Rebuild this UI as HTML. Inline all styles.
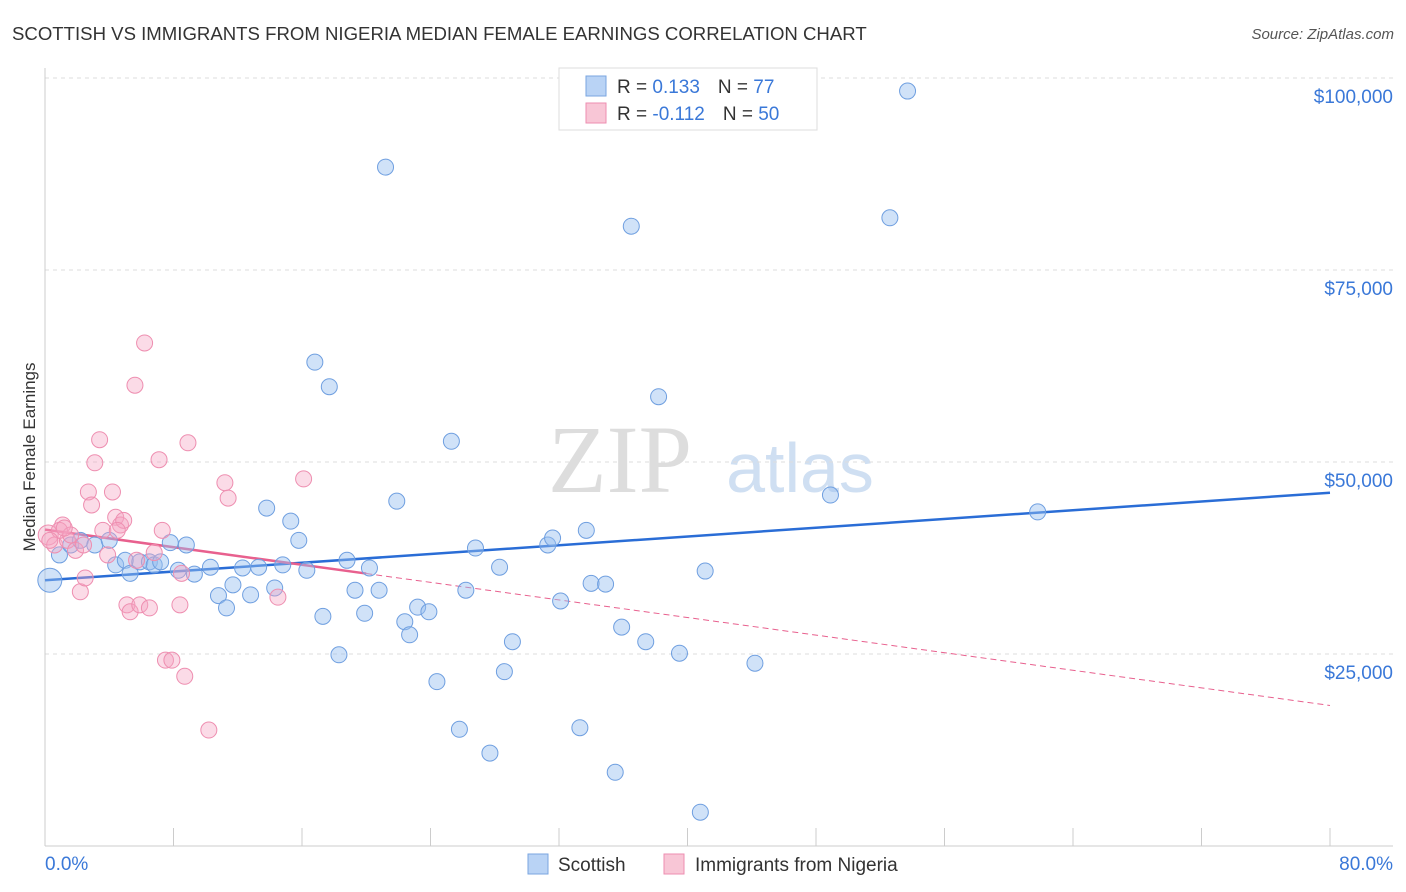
<!DOCTYPE html>
<html><head><meta charset="utf-8"><style>
body{margin:0;background:#fff;font-family:"Liberation Sans",sans-serif;}
svg{display:block}
</style></head><body>
<svg id="chart" width="1406" height="892">
<text x="12" y="40" font-size="18.6" fill="#333">SCOTTISH VS IMMIGRANTS FROM NIGERIA MEDIAN FEMALE EARNINGS CORRELATION CHART</text>
<text x="1394" y="39" font-size="15" fill="#555" font-style="italic" text-anchor="end">Source: ZipAtlas.com</text>
<text x="35" y="457" font-size="17" fill="#333" text-anchor="middle" transform="rotate(-90 35 457)">Median Female Earnings</text>
<text x="620" y="492" font-size="96" fill="#ddd" font-family="Liberation Serif" text-anchor="middle">ZIP</text>
<text x="800" y="492" font-size="70" fill="#cfdff2" text-anchor="middle">atlas</text>
<g id="grid"></g><g id="axes"></g><g id="trends"></g><g id="pts"></g>
<g>
<rect x="559" y="68" width="258" height="62" fill="#fff" stroke="#ddd"/>
<rect x="586" y="76" width="20" height="20" fill="#b9d3f5" stroke="#7aa6e0"/>
<rect x="586" y="103" width="20" height="20" fill="#f8c6d6" stroke="#ee8eb0"/>
<text x="617" y="93" font-size="19" fill="#333">R = <tspan fill="#3a78d8"> 0.133</tspan><tspan dx="18">N = </tspan><tspan fill="#3a78d8">77</tspan></text>
<text x="617" y="120" font-size="19" fill="#333">R = <tspan fill="#3a78d8">-0.112</tspan><tspan dx="18">N = </tspan><tspan fill="#3a78d8">50</tspan></text>
</g>
<g>
<rect x="528" y="854" width="20" height="20" fill="#b9d3f5" stroke="#7aa6e0"/>
<text x="558" y="871" font-size="19" fill="#333">Scottish</text>
<rect x="664" y="854" width="20" height="20" fill="#f8c6d6" stroke="#ee8eb0"/>
<text x="695" y="871" font-size="19" fill="#333">Immigrants from Nigeria</text>
</g>
<text x="45" y="870" font-size="19" fill="#3a78d8">0.0%</text>
<text x="1393" y="870" font-size="19" fill="#3a78d8" text-anchor="end">80.0%</text>
</svg>
<script>
const yTicks=[25000,50000,75000,100000];
const yTickLabels=["$25,000","$50,000","$75,000","$100,000"];
const scotX=[0.3,0.9,1.6,2.2,3.1,4.0,4.4,5.0,5.3,5.9,6.5,6.8,7.2,7.8,8.3,8.8,9.3,10.3,10.8,11.3,11.7,12.3,12.8,13.3,13.8,14.3,14.8,15.3,15.8,16.3,16.8,17.3,17.7,18.3,18.8,19.3,19.9,20.2,20.8,21.2,21.9,22.4,22.7,23.2,23.9,24.4,25.3,25.8,26.2,26.8,27.7,28.3,28.6,29.1,31.3,31.6,32.1,33.3,33.7,34.0,34.9,35.5,35.9,36.5,37.4,38.2,39.5,40.8,41.1,44.2,48.9,52.6,53.7,61.8];
const scotY=[34.6,37.9,39.2,39.8,39.2,39.8,36.6,37.2,35.5,37.0,37.0,36.6,37.0,39.5,35.9,39.2,35.4,36.3,32.6,31.0,34.0,36.2,32.7,36.3,44.0,33.6,36.6,42.3,39.8,35.9,63.0,29.9,59.8,24.9,37.2,33.3,30.3,36.2,33.3,88.4,44.9,29.2,27.5,31.1,30.5,21.4,52.7,15.2,33.3,38.8,12.1,36.3,22.7,26.6,39.2,40.1,31.9,15.4,41.1,34.2,34.1,9.6,28.5,80.7,26.6,58.5,25.1,4.4,35.8,23.8,45.7,81.8,98.3,43.5];
const nigX=[0.2,0.6,1.1,1.4,1.9,2.2,2.5,2.7,2.9,3.1,3.4,3.6,3.9,4.2,4.4,4.7,4.9,5.1,5.3,5.6,5.7,5.9,6.2,6.5,6.8,7.1,7.3,7.5,7.9,8.4,8.5,8.7,8.9,10.2,11.2,11.4,14.5,16.1,0.9,1.6,2.4,4.5,0.3,1.2];
const nigY=[40.5,39.2,41.8,39.8,38.5,33.1,34.9,46.1,44.4,49.9,52.9,41.1,37.9,46.1,42.8,41.8,42.4,31.4,30.5,60.0,37.2,31.4,65.5,31.0,38.2,50.3,41.1,24.2,24.2,31.4,35.5,22.1,52.5,15.1,47.3,45.3,32.4,47.8,41.1,40.5,39.2,41.1,39.8,41.4];
const scotTrend=[34.6,46.0];
const nigTrend=[41.2,18.3];
const NS="http://www.w3.org/2000/svg";
const X=p=>45+p/80*1285, Y=v=>846-v/25000*192;
function mk(t,a,parent){const e=document.createElementNS(NS,t);for(const k in a)e.setAttribute(k,a[k]);document.getElementById(parent).appendChild(e);return e;}
yTicks.forEach((v,i)=>{
 const l=mk('line',{x1:45,x2:1393,y1:Y(v),y2:Y(v),stroke:'#ddd','stroke-dasharray':'4,4'},'grid');
 
 
 const t=mk('text',{x:1393,y:Y(v)+25,'font-size':19,fill:'#3a78d8','text-anchor':'end'},'grid');
 t.textContent=yTickLabels[i];
 
 
});
const ax=mk('line',{x1:45,x2:1393,y1:846,y2:846,stroke:'#ccc'},'axes');


const ay=mk('line',{x1:45,x2:45,y1:68,y2:846,stroke:'#ccc'},'axes');


for(let i=0;i<=10;i++){const t=mk('line',{x1:X(i*8),x2:X(i*8),y1:828,y2:846,stroke:'#ccc'},'axes');
 
 }
const bt=mk('line',{x1:X(0),x2:X(80),y1:Y(scotTrend[0]*1000),y2:Y(scotTrend[1]*1000),stroke:'#2a6dd6','stroke-width':2.5},'trends');


const pv=x=>nigTrend[0]+(nigTrend[1]-nigTrend[0])*x/80;
const ps=mk('line',{x1:X(0),x2:X(20),y1:Y(pv(0)*1000),y2:Y(pv(20)*1000),stroke:'#e8608e','stroke-width':2.5},'trends');


const pd=mk('line',{x1:X(20),x2:X(80),y1:Y(pv(20)*1000),y2:Y(pv(80)*1000),stroke:'#e8608e','stroke-width':1,'stroke-dasharray':'6,4'},'trends');


scotX.forEach((x,i)=>{const c=mk('circle',{cx:X(x),cy:Y(scotY[i]*1000),r:i==0?12:8,fill:'rgba(150,190,240,0.45)',stroke:'#6f9fe0','stroke-width':1},'pts');
 
 });
nigX.forEach((x,i)=>{const c=mk('circle',{cx:X(x),cy:Y(nigY[i]*1000),r:i==0?10:8,fill:'rgba(245,165,195,0.4)',stroke:'#ee8eb0','stroke-width':1},'pts');
 
 });
</script>
</body></html>
